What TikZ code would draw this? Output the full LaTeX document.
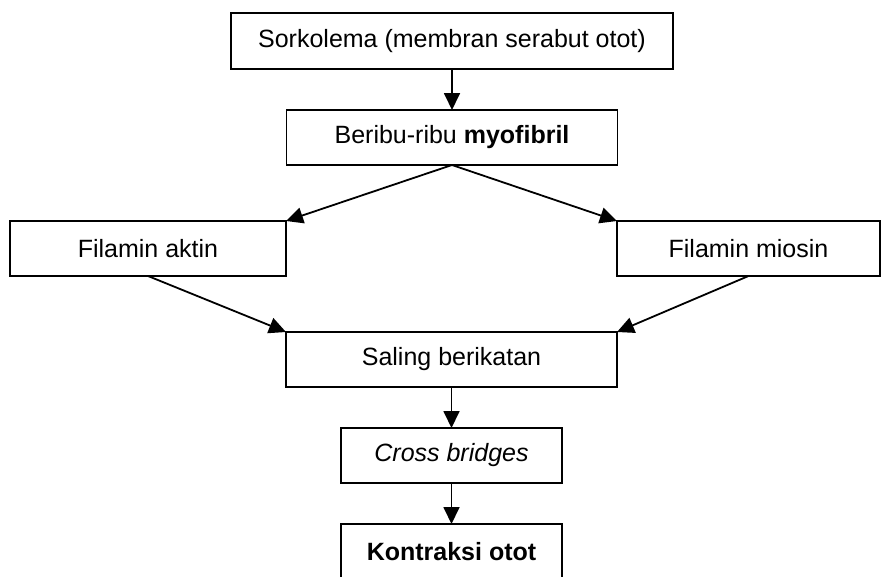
\documentclass[tikz,border=0pt]{standalone}
\usepackage{fontspec}
\setmainfont{Liberation Sans}
\usetikzlibrary{arrows.meta,positioning}

\begin{document}
\begin{tikzpicture}[
  x=1pt, y=-1pt,
  font=\fontsize{25}{29}\selectfont,
  box/.style={draw=black, line width=1.8pt, inner sep=0pt, outer sep=0pt,
    minimum height=55pt, align=center},
  flow/.style={-{Triangle[length=17pt,width=16pt]}, line width=1.8pt, draw=black}
]
  \useasboundingbox (0,0) rectangle (881,576);
  \node[box, minimum width=442pt, minimum height=56pt] (sarco) at (452,41) {Sorkolema (membran serabut otot)};
  \node[box, minimum width=331pt, below=41pt of sarco] (myo) {Beribu-ribu \textbf{myofibril}};
  \node[box, minimum width=276pt] (aktin) at (148,248.5) {Filamin aktin};
  \node[box, minimum width=263pt] (miosin) at (748.5,248.5) {Filamin miosin};
  \node[box, minimum width=331pt] (ikat) at (451.5,359.5) {Saling berikatan};
  \node[box, minimum width=221pt, below=41pt of ikat] (cross) {\textit{Cross bridges}};
  \node[box, minimum width=221pt, below=41pt of cross] (kontraksi) {\textbf{Kontraksi otot}};

  \draw[flow] (sarco) -- (myo);
  \draw[flow] (myo.south) -- (aktin.north east);
  \draw[flow] (myo.south) -- (miosin.north west);
  \draw[flow] (aktin.south) -- (ikat.north west);
  \draw[flow] (miosin.south) -- (ikat.north east);
  \draw[flow] (ikat) -- (cross);
  \draw[flow] (cross) -- (kontraksi);
\end{tikzpicture}
\end{document}
